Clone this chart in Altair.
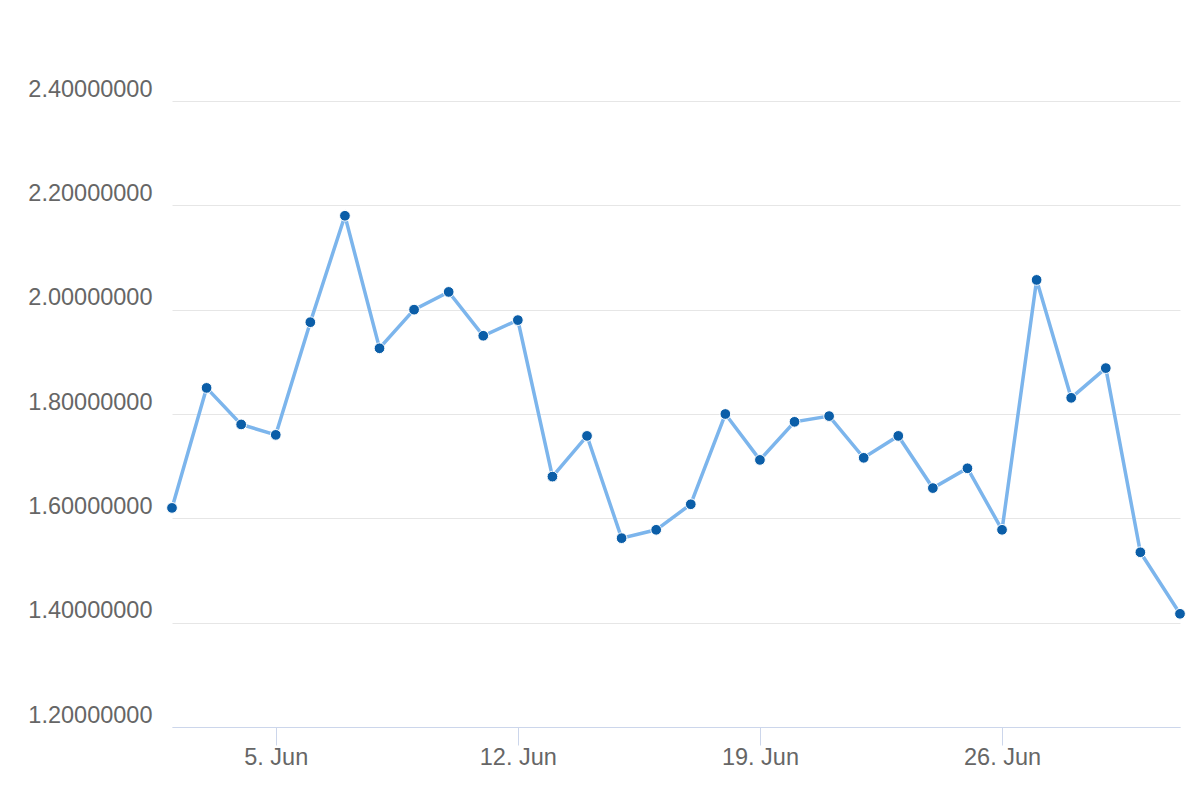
import altair as alt
import pandas as pd

dates = [
    "2017-06-02", "2017-06-03", "2017-06-04", "2017-06-05", "2017-06-06",
    "2017-06-07", "2017-06-08", "2017-06-09", "2017-06-10", "2017-06-11",
    "2017-06-12", "2017-06-13", "2017-06-14", "2017-06-15", "2017-06-16",
    "2017-06-17", "2017-06-18", "2017-06-19", "2017-06-20", "2017-06-21",
    "2017-06-22", "2017-06-23", "2017-06-24", "2017-06-25", "2017-06-26",
    "2017-06-27", "2017-06-28", "2017-06-29", "2017-06-30", "2017-07-01T03:30:00Z",
]
values = [
    1.62, 1.85, 1.78, 1.76, 1.976,
    2.18, 1.926, 2.00, 2.034, 1.95,
    1.98, 1.68, 1.758, 1.562, 1.578,
    1.627, 1.80, 1.712, 1.785, 1.796,
    1.716, 1.758, 1.658, 1.696, 1.578,
    2.057, 1.831, 1.888, 1.535, 1.417,
]
y_ticks = [1.2, 1.4, 1.6, 1.8, 2.0, 2.2, 2.4]
x_tick_days = [5, 12, 19, 26]

df = pd.DataFrame({"date": dates, "value": values})

x_enc = alt.X(
    "date:T",
    title=None,
    scale=alt.Scale(
        type="utc",
        domain=[alt.DateTime(year=2017, month=6, date=2, utc=True),
                alt.DateTime(year=2017, month=7, date=1, hours=3, minutes=30, utc=True)],
    ),
    axis=alt.Axis(
        values=[alt.DateTime(year=2017, month=6, date=d, utc=True) for d in x_tick_days],
        format="%-d. %b",
        grid=False,
        domainColor="#ccd6eb",
        domainWidth=1,
        tickColor="#ccd6eb",
        tickWidth=1,
        tickSize=18,
        labelPadding=0,
        labelFontSize=23.5,
        labelColor="#666666",
        labelFont="Liberation Sans",
    ),
)
y_enc = alt.Y(
    "value:Q",
    title=None,
    scale=alt.Scale(domain=[1.2, 2.4], nice=False, zero=False),
    axis=alt.Axis(
        values=y_ticks,
        format=".8f",
        grid=True,
        gridColor="#e6e6e6",
        gridWidth=1,
        domain=False,
        ticks=False,
        labelPadding=20,
        labelBaseline="alphabetic",
        labelOffset=-5,
        labelFontSize=23.5,
        labelColor="#666666",
        labelFont="Liberation Sans",
    ),
)

line = alt.Chart(df).mark_line(color="#7cb5ec", strokeWidth=3.5).encode(x=x_enc, y=y_enc)
points = alt.Chart(df).mark_point(
    filled=True, shape="circle", size=115, fill="#0b5ea8", stroke="white",
    strokeWidth=1, opacity=1, fillOpacity=1
).encode(x=x_enc, y=y_enc)

chart = (line + points).properties(
    width=1008,
    height=626,
    padding={"left": 164, "top": 93, "right": 12, "bottom": 50},
    autosize=alt.AutoSizeParams(type="none"),
).configure_view(stroke=None)

chart.save("out.html", embed_options={"renderer": "svg", "actions": False})
